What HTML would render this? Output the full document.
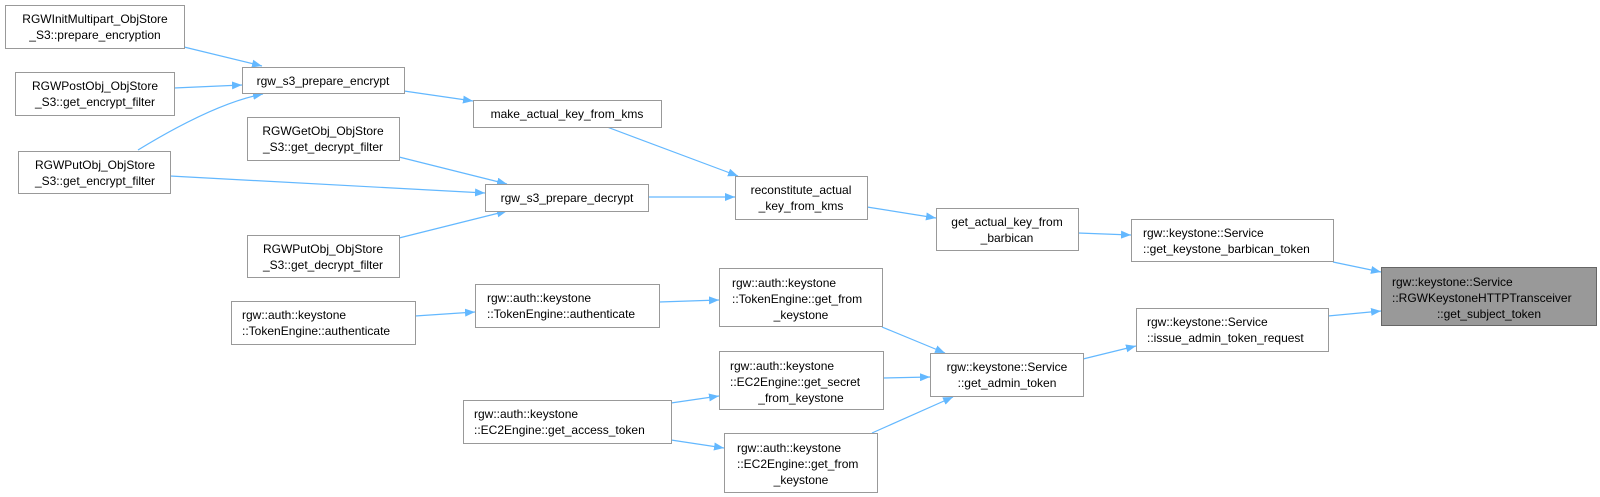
<!DOCTYPE html>
<html><head><meta charset="utf-8"><style>
html,body{margin:0;padding:0;background:#fff;width:1600px;height:497px;overflow:hidden}
svg{display:block}
text{font-family:"Liberation Sans",Arial,sans-serif;font-size:12px;fill:#000}
.b{fill:#fff;stroke:#999;stroke-width:1}
.e{fill:none;stroke:#63b8ff;stroke-width:1.2}
</style></head><body>
<svg width="1600" height="497" viewBox="0 0 1600 497" xmlns="http://www.w3.org/2000/svg">
<defs>
<marker id="a" viewBox="0 0 10 8" refX="10" refY="4" markerWidth="10" markerHeight="8" markerUnits="userSpaceOnUse" orient="auto">
<path d="M0,0 L10,4 L0,8 z" fill="#63b8ff"/>
</marker>
</defs>
<!-- edges -->
<g class="e" marker-end="url(#a)">
<path d="M184,47 L262,66" marker-end="url(#a)"/>
<path d="M174,88 L242,85" marker-end="url(#a)"/>
<path d="M138,150 Q215,103 263,94" marker-end="url(#a)"/>
<path d="M404,91 L473,101" marker-end="url(#a)"/>
<path d="M607,127 L738,176" marker-end="url(#a)"/>
<path d="M399,157 L507,184" marker-end="url(#a)"/>
<path d="M170,176 L485,193" marker-end="url(#a)"/>
<path d="M399,238 L507,211" marker-end="url(#a)"/>
<path d="M648,197 L735,197" marker-end="url(#a)"/>
<path d="M867,207 L936,218" marker-end="url(#a)"/>
<path d="M1078,233 L1131,235" marker-end="url(#a)"/>
<path d="M1333,262 L1381,272" marker-end="url(#a)"/>
<path d="M1328,316 L1381,311" marker-end="url(#a)"/>
<path d="M1083,359 L1136,346" marker-end="url(#a)"/>
<path d="M415,316 L475,312" marker-end="url(#a)"/>
<path d="M659,302 L719,300" marker-end="url(#a)"/>
<path d="M882,327 L945,353" marker-end="url(#a)"/>
<path d="M883,378 L930,377" marker-end="url(#a)"/>
<path d="M671,403 L719,396" marker-end="url(#a)"/>
<path d="M671,440 L724,448" marker-end="url(#a)"/>
<path d="M872,433 L953,397" marker-end="url(#a)"/>
</g>
<!-- nodes -->
<rect class="b" x="5.5" y="5.5" width="179" height="43"/>
<text x="95" y="23" text-anchor="middle">RGWInitMultipart_ObjStore</text>
<text x="95" y="39" text-anchor="middle">_S3::prepare_encryption</text>

<rect class="b" x="15.5" y="72.5" width="159" height="43"/>
<text x="95" y="90" text-anchor="middle">RGWPostObj_ObjStore</text>
<text x="95" y="106" text-anchor="middle">_S3::get_encrypt_filter</text>

<rect class="b" x="18.5" y="151.5" width="152" height="42"/>
<text x="95" y="169" text-anchor="middle">RGWPutObj_ObjStore</text>
<text x="95" y="185" text-anchor="middle">_S3::get_encrypt_filter</text>

<rect class="b" x="242.5" y="67.5" width="162" height="26"/>
<text x="323" y="85" text-anchor="middle">rgw_s3_prepare_encrypt</text>

<rect class="b" x="247.5" y="117.5" width="152" height="43"/>
<text x="323" y="135" text-anchor="middle">RGWGetObj_ObjStore</text>
<text x="323" y="151" text-anchor="middle">_S3::get_decrypt_filter</text>

<rect class="b" x="247.5" y="235.5" width="152" height="42"/>
<text x="323" y="253" text-anchor="middle">RGWPutObj_ObjStore</text>
<text x="323" y="269" text-anchor="middle">_S3::get_decrypt_filter</text>

<rect class="b" x="473.5" y="100.5" width="188" height="27"/>
<text x="567" y="118" text-anchor="middle">make_actual_key_from_kms</text>

<rect class="b" x="485.5" y="184.5" width="163" height="27"/>
<text x="567" y="202" text-anchor="middle">rgw_s3_prepare_decrypt</text>

<rect class="b" x="735.5" y="176.5" width="132" height="43"/>
<text x="801" y="194" text-anchor="middle">reconstitute_actual</text>
<text x="801" y="210" text-anchor="middle">_key_from_kms</text>

<rect class="b" x="936.5" y="208.5" width="142" height="42"/>
<text x="1007" y="226" text-anchor="middle">get_actual_key_from</text>
<text x="1007" y="242" text-anchor="middle">_barbican</text>

<rect class="b" x="1131.5" y="219.5" width="202" height="42"/>
<text x="1143" y="237">rgw::keystone::Service</text>
<text x="1143" y="253">::get_keystone_barbican_token</text>

<rect x="1381.5" y="267.5" width="215" height="58" fill="#999" stroke="#666"/>
<text x="1392" y="286">rgw::keystone::Service</text>
<text x="1392" y="302">::RGWKeystoneHTTPTransceiver</text>
<text x="1489" y="318" text-anchor="middle">::get_subject_token</text>

<rect class="b" x="1136.5" y="308.5" width="192" height="43"/>
<text x="1147" y="326">rgw::keystone::Service</text>
<text x="1147" y="342">::issue_admin_token_request</text>

<rect class="b" x="930.5" y="353.5" width="153" height="43"/>
<text x="1007" y="371" text-anchor="middle">rgw::keystone::Service</text>
<text x="1007" y="387" text-anchor="middle">::get_admin_token</text>

<rect class="b" x="231.5" y="301.5" width="184" height="43"/>
<text x="242" y="319">rgw::auth::keystone</text>
<text x="242" y="335">::TokenEngine::authenticate</text>

<rect class="b" x="475.5" y="284.5" width="184" height="43"/>
<text x="487" y="302">rgw::auth::keystone</text>
<text x="487" y="318">::TokenEngine::authenticate</text>

<rect class="b" x="719.5" y="268.5" width="163" height="58"/>
<text x="732" y="287">rgw::auth::keystone</text>
<text x="732" y="303">::TokenEngine::get_from</text>
<text x="801" y="319" text-anchor="middle">_keystone</text>

<rect class="b" x="719.5" y="351.5" width="164" height="58"/>
<text x="730" y="370">rgw::auth::keystone</text>
<text x="730" y="386">::EC2Engine::get_secret</text>
<text x="801" y="402" text-anchor="middle">_from_keystone</text>

<rect class="b" x="463.5" y="400.5" width="208" height="43"/>
<text x="474" y="418">rgw::auth::keystone</text>
<text x="474" y="434">::EC2Engine::get_access_token</text>

<rect class="b" x="724.5" y="433.5" width="153" height="59"/>
<text x="737" y="452">rgw::auth::keystone</text>
<text x="737" y="468">::EC2Engine::get_from</text>
<text x="801" y="484" text-anchor="middle">_keystone</text>
</svg>
</body></html>
